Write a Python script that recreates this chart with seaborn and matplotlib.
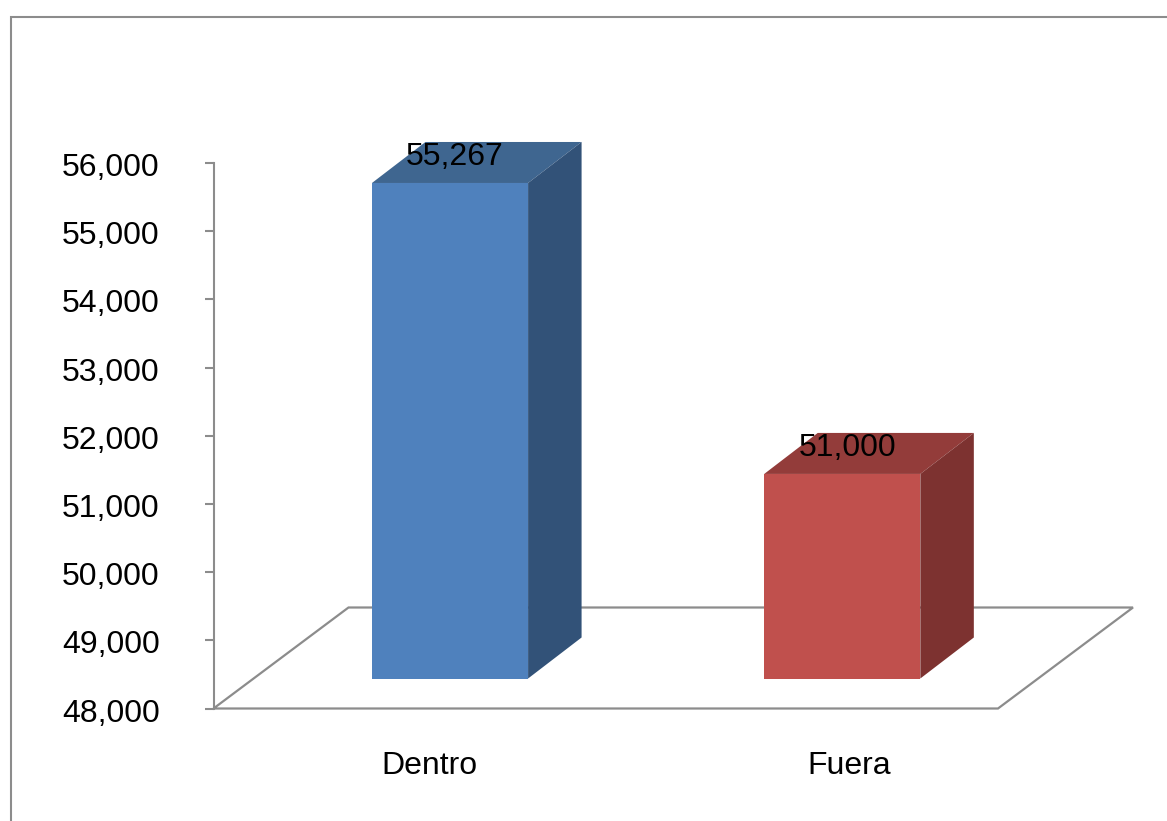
import matplotlib
matplotlib.use("Agg")
import matplotlib.pyplot as plt
from matplotlib.lines import Line2D
from matplotlib.patches import Polygon
from matplotlib.transforms import Affine2D, offset_copy
import pandas as pd
import seaborn as sns

# Chart values
categories = ["Dentro", "Fuera"]
values = [55267, 51000]
value_labels = ["55,267", "51,000"]
y_ticks = [48000, 49000, 50000, 51000, 52000, 53000, 54000, 55000, 56000]

# Colours per category: front, top and side faces of each box
front_colors = ["#4F81BD", "#C0504D"]
top_colors = ["#3F6690", "#933C3A"]
side_colors = ["#325278", "#7D3230"]
line_color = "#8C8C8C"

W, H, DPI = 1167, 821, 100
FONT_SIZE = 23
sns.set_theme(style="white")
plt.rcParams["font.family"] = ["Liberation Sans", "DejaVu Sans"]

fig = plt.figure(figsize=(W / DPI, H / DPI), dpi=DPI, facecolor="white")
ax = fig.add_axes([213.5 / W, (H - 708.5) / H, (998 - 213.5) / W, (708.5 - 163) / H])

df = pd.DataFrame({"zona": categories, "valor": values})
sns.barplot(data=df, x="zona", y="valor", hue="zona", order=categories,
            hue_order=categories, palette=front_colors, width=0.398,
            legend=False, saturation=1, ax=ax, zorder=3)

y_min, y_max = y_ticks[0], y_ticks[-1]
ax.set_ylim(y_min, y_max)
ax.set_xlim(-0.5, 1.5)
ax.set_xlabel("")
ax.set_ylabel("")
ax.set_facecolor("none")

# Value axis: left spine with outward ticks, labels held well away from it
for side in ("top", "right", "bottom"):
    ax.spines[side].set_visible(False)
ax.spines["left"].set_color(line_color)
ax.spines["left"].set_linewidth(1.5)
ax.set_yticks(y_ticks)
ax.set_yticklabels([f"{t:,}" for t in y_ticks])
ax.tick_params(axis="y", left=True, length=6.8, width=1.5, color=line_color,
               pad=32, labelsize=FONT_SIZE, labelcolor="black")
ax.set_xticks([])
for tick_label in ax.get_yticklabels():
    tick_label.set_transform(tick_label.get_transform() + Affine2D().translate(0, -1.5))

# Floor of the pseudo-3D chart, drawn from the axes' base corners with a depth offset
floor_dx, floor_dy = 135, 101
x0, y0 = ax.transAxes.transform((0, 0))
x1, _ = ax.transAxes.transform((1, 0))
floor = [(x0, y0), (x1, y0), (x1 + floor_dx, y0 + floor_dy), (x0 + floor_dx, y0 + floor_dy)]
fig.add_artist(Polygon(floor, closed=True, fill=False, edgecolor=line_color, linewidth=1.6,
                       transform=None, zorder=-1, joinstyle="miter"))

# Boxes stand on the floor: the front face is moved in from the axis plane
shift_x, shift_y = 40.4, 30
depth_x, depth_y = 53.5, 41
shifted = offset_copy(ax.transData, fig=fig, x=shift_x, y=shift_y, units="dots")

for patch, value, label, top_c, side_c in zip(ax.patches, values, value_labels,
                                              top_colors, side_colors):
    patch.set_y(y_min)
    patch.set_height(value - y_min)
    patch.set_transform(shifted)
    patch.set_clip_on(False)
    patch.set_linewidth(0)

    left = patch.get_x()
    right = left + patch.get_width()
    lx, by = shifted.transform((left, y_min))
    rx, ty = shifted.transform((right, value))
    top_face = [(lx, ty), (rx, ty), (rx + depth_x, ty + depth_y), (lx + depth_x, ty + depth_y)]
    side_face = [(rx, by), (rx + depth_x, by + depth_y), (rx + depth_x, ty + depth_y), (rx, ty)]
    ax.add_artist(Polygon(top_face, closed=True, facecolor=top_c, edgecolor="none",
                          transform=None, clip_on=False, zorder=4))
    ax.add_artist(Polygon(side_face, closed=True, facecolor=side_c, edgecolor="none",
                          transform=None, clip_on=False, zorder=4))

    # Value label sits on the top face of its box
    ax.annotate(label, xy=(left + patch.get_width() / 2, value), xycoords=shifted,
                xytext=(3.5, 19), textcoords="offset points", ha="center", va="center",
                fontsize=FONT_SIZE, color="black", zorder=6)

# Category labels under the floor
label_shift = [20, 47]
for i, (name, dx) in enumerate(zip(categories, label_shift)):
    ax.annotate(name, xy=(i, 0), xycoords=("data", "axes fraction"),
                xytext=(dx * 72 / DPI, -57 * 72 / DPI), textcoords="offset points",
                ha="center", va="center", fontsize=FONT_SIZE, color="black",
                annotation_clip=False)

# Chart-area border, running off the right and bottom of the canvas
fig.add_artist(Line2D([10.5, 10.5, W], [0, H - 17, H - 17], color=line_color, linewidth=1.5,
                      transform=None, solid_joinstyle="miter"))

fig.savefig("out.png", dpi=DPI)
